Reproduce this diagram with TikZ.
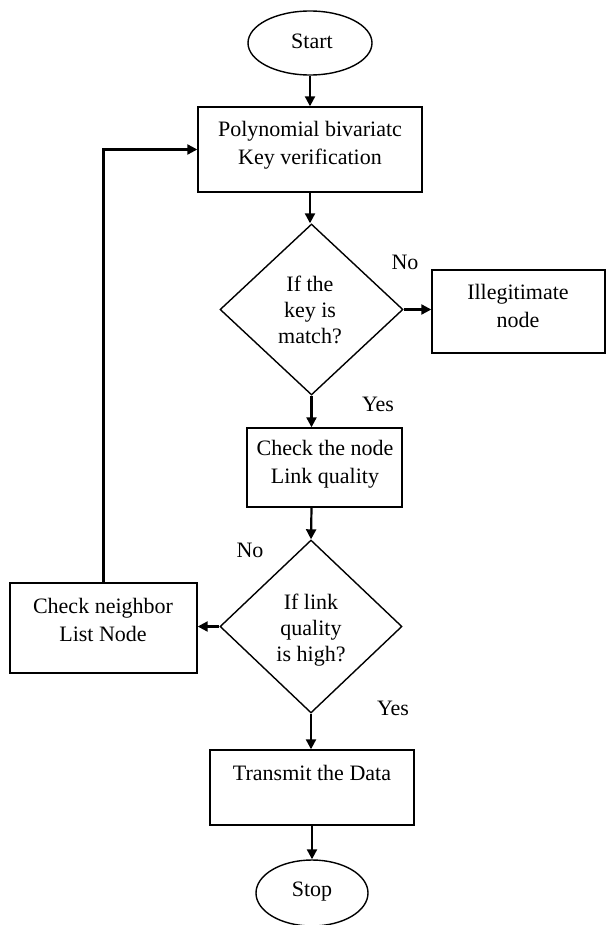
\documentclass[tikz,border=0pt]{standalone}
\usepackage{fontspec}
\setmainfont{Liberation Serif}
\usetikzlibrary{shapes.geometric,arrows.meta}
\begin{document}
\begin{tikzpicture}[x=1pt,y=-1pt,
  box/.style={draw,line width=1.4pt,inner sep=0pt},
  term/.style={draw,ellipse,line width=1.4pt,inner sep=0pt},
  dia/.style={draw,diamond,line width=1.4pt,inner sep=0pt},
  txt/.style={font=\fontsize{22}{28}\selectfont,align=center,inner sep=0pt},
  dtxt/.style={font=\fontsize{22}{26}\selectfont,align=center,inner sep=0pt},
  arr/.style={line width=2.2pt,-{Triangle[length=10pt,width=10pt]}}]
\useasboundingbox (0,0) rectangle (605,925);
% shapes
\node[term,minimum width=124pt,minimum height=64pt] (start) at (310,43) {};
\node[box,minimum width=224pt,minimum height=85pt] (b1) at (310,149.5) {};
\node[dia,minimum width=183pt,minimum height=171pt] (d1) at (311.5,309.5) {};
\node[box,minimum width=173pt,minimum height=83pt] (ill) at (518.5,311.5) {};
\node[box,minimum width=155pt,minimum height=79pt] (b3) at (324.5,467.5) {};
\node[dia,minimum width=182pt,minimum height=173pt] (d2) at (311,626.5) {};
\node[box,minimum width=187pt,minimum height=90pt] (b4) at (103.5,628) {};
\node[box,minimum width=204pt,minimum height=75pt] (b5) at (312,787.5) {};
\node[term,minimum width=112pt,minimum height=66pt] (stop) at (312,893) {};
% texts
\node[txt] (tstart) at (312,41) {Start};
\node[txt] (tb1) at (310,145) {Polynomial bivariatc\\Key verification};
\node[dtxt] (td1) at (310,310) {If the\\key is\\match?};
\node[txt] (till) at (518,306) {Illegitimate\\node};
\node[txt] (tb3) at (325,464) {Check the node\\Link quality};
\node[dtxt] (td2) at (311,630) {If link\\quality\\is high?};
\node[txt] (tb4) at (103,620) {Check neighbor\\List Node};
\node[txt] (tb5) at (312,773) {Transmit the Data};
\node[txt] (tstop) at (312,892) {Stop};
% labels
\node[txt] (no1) at (405,262) {No};
\node[txt] (yes1) at (378,404) {Yes};
\node[txt] (no2) at (250,550) {No};
\node[txt] (yes2) at (393,708) {Yes};
% connectors
\draw[arr] (start.south) -- (start.south |- b1.north);
\draw[arr] (b1.south -| start.south) -- (d1.north -| start.south);
\draw[arr] (d1.south) -- (d1.south |- b3.north);
\draw[arr] (d1.east) -- (ill.west |- d1.east);
\draw[arr] (b3.south -| d1.south) -- (d2.north);
\draw[arr] (d2.west) -- (b4.east |- d2.west);
\draw[arr] (b4.north) |- (b1.west);
\draw[arr] (d2.south) -- (d2.south |- b5.north);
\draw[arr] (b5.south) -- (stop.north);
\end{tikzpicture}
\end{document}
